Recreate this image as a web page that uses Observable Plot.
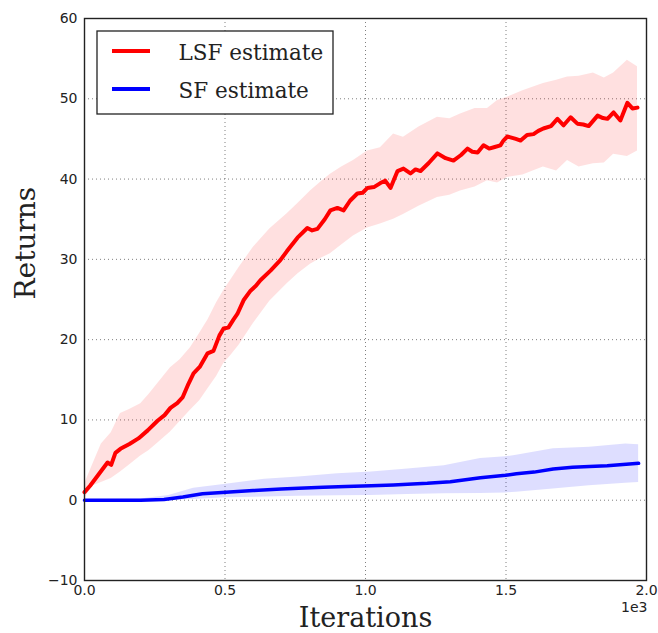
<!DOCTYPE html>
<html>
<head>
<meta charset="utf-8">
<script src="https://cdn.jsdelivr.net/npm/d3@7"></script>
<script src="https://cdn.jsdelivr.net/npm/@observablehq/plot@0.6"></script>
<style>
  html, body { margin: 0; padding: 0; background: #fff; }
</style>
</head>
<body>
<div id="chart"></div>
<script>
// ---- data ----
const xTicks = [0, 500, 1000, 1500, 2000];
const yTicks = [-10, 0, 10, 20, 30, 40, 50, 60];

const lsfX = [0,20,50,82,95,110,128,160,192,225,260,285,306,330,349,370,388,410,438,459,480,495,512,530,544,566,591,610,626,662,697,720,758,793,810,829,855,875,900,922,945,971,990,1007,1030,1053,1070,1089,1114,1135,1160,1178,1196,1225,1256,1285,1313,1340,1363,1380,1399,1420,1440,1460,1480,1491,1505,1516,1535,1552,1575,1598,1615,1633,1660,1683,1705,1730,1754,1775,1794,1826,1845,1861,1883,1907,1932,1950,1968];
const lsfY = [1.0,1.8,3.2,4.7,4.4,5.9,6.4,7.0,7.7,8.7,9.9,10.6,11.5,12.1,12.8,14.5,15.8,16.6,18.3,18.6,20.5,21.4,21.5,22.5,23.2,24.9,26.1,26.7,27.4,28.6,29.9,31.0,32.7,33.9,33.6,33.8,35.0,36.1,36.4,36.1,37.3,38.2,38.3,38.9,39.0,39.5,39.8,38.9,41.0,41.3,40.7,41.2,41.0,42.0,43.2,42.6,42.3,43.0,43.8,43.4,43.3,44.2,43.8,44.0,44.2,44.8,45.3,45.2,45.0,44.8,45.5,45.6,46.0,46.3,46.6,47.5,46.7,47.7,46.9,46.8,46.6,47.9,47.6,47.5,48.3,47.3,49.5,48.8,48.9];

const lsfBandX = [0,30,60,95,128,160,200,230,260,306,340,377,410,440,470,495,520,550,601,660,722,760,804,840,875,915,957,1007,1053,1100,1135,1190,1256,1300,1338,1390,1434,1470,1505,1560,1633,1680,1719,1760,1811,1850,1883,1932,1968];
const lsfUpper = [2.0,4.5,7.0,8.4,10.8,11.3,12.0,13.2,14.5,16.5,17.5,19.0,20.8,22.5,24.6,26.1,27.4,29.0,31.5,33.8,35.7,37.0,38.5,39.6,40.6,41.5,42.3,43.5,43.9,45.6,45.2,46.5,47.7,47.5,48.1,48.8,48.8,49.8,50.2,51.0,51.9,52.3,52.7,52.8,53.2,52.6,53.2,54.8,54.0];
const lsfLower = [0.2,1.8,2.2,2.7,3.5,4.4,5.5,6.2,7.1,8.5,9.8,11.2,12.4,13.9,15.4,17.0,18.0,19.3,22.0,24.8,27.0,28.2,29.4,30.1,30.7,31.8,32.9,33.9,34.4,35.0,35.6,36.6,37.7,38.0,38.5,39.0,39.8,39.5,40.2,40.5,41.5,41.0,42.3,41.5,41.9,42.0,43.1,42.8,43.5];

const sfX = [0,100,200,283,350,420,503,600,700,762,850,930,1021,1100,1150,1220,1302,1409,1498,1537,1600,1668,1737,1797,1860,1939,1972];
const sfY = [0.0,0.0,0.0,0.1,0.4,0.8,1.0,1.2,1.4,1.5,1.6,1.7,1.8,1.9,2.0,2.1,2.3,2.8,3.1,3.3,3.5,3.9,4.1,4.2,4.3,4.5,4.6];

const sfBandX = [0,200,300,388,503,640,762,900,1021,1150,1280,1409,1498,1537,1668,1797,1926,1972];
const sfUpper = [0.05,0.15,0.6,1.5,2.0,2.6,2.9,3.3,3.5,3.9,4.3,5.2,5.4,5.6,6.4,6.6,7.0,6.9];
const sfLower = [-0.05,-0.05,0.0,0.1,0.3,0.4,0.5,0.55,0.6,0.7,0.8,0.85,0.9,1.0,1.4,1.8,2.1,2.2];

const seriesNames = ["LSF estimate", "SF estimate"];
const seriesColors = ["#ff0000", "#0000ff"];

// ---- tables ----
const lsf = lsfX.map((x, i) => ({x, y: lsfY[i]}));
const sf = sfX.map((x, i) => ({x, y: sfY[i]}));
const lsfBand = lsfBandX.map((x, i) => ({x, lo: lsfLower[i], hi: lsfUpper[i]}));
const sfBand = sfBandX.map((x, i) => ({x, lo: sfLower[i], hi: sfUpper[i]}));

const W = 658, H = 633;
const mL = 84, mR = 12, mT = 18, mB = 53;
const serif = "DejaVu Serif";

const plot = Plot.plot({
  width: W,
  height: H,
  marginLeft: mL,
  marginRight: mR,
  marginTop: mT,
  marginBottom: mB,
  style: {fontFamily: "DejaVu Sans", fontSize: "14px", color: "#222", background: "#fff"},
  x: {domain: [0, 2000], ticks: xTicks, label: null},
  y: {domain: [-10, 60], ticks: yTicks, label: null},
  marks: [
    Plot.gridX(xTicks, {stroke: "#000", strokeOpacity: 0.5, strokeDasharray: "1,3", strokeWidth: 1}),
    Plot.gridY(yTicks, {stroke: "#000", strokeOpacity: 0.5, strokeDasharray: "1,3", strokeWidth: 1}),
    Plot.areaY(lsfBand, {x: "x", y1: "lo", y2: "hi", fill: seriesColors[0], fillOpacity: 0.12}),
    Plot.areaY(sfBand, {x: "x", y1: "lo", y2: "hi", fill: seriesColors[1], fillOpacity: 0.13}),
    Plot.line(sf, {x: "x", y: "y", stroke: seriesColors[1], strokeWidth: 3.5}),
    Plot.line(lsf, {x: "x", y: "y", stroke: seriesColors[0], strokeWidth: 4}),
    Plot.axisX(xTicks, {tickSize: 0, tickPadding: 5, tickFormat: d => (d / 1000).toFixed(1), fill: "#222", label: null}),
    Plot.axisY(yTicks, {tickSize: 0, tickPadding: 7, tickFormat: d => d < 0 ? "\u2212" + Math.abs(d) : String(d), fill: "#222", label: null}),
    Plot.frame({stroke: "#222", strokeWidth: 1.4}),
    Plot.text(["1e3"], {frameAnchor: "bottom-right", textAnchor: "end", dx: 1, dy: 31, fill: "#222", fontSize: 14}),
    Plot.text(["Iterations"], {frameAnchor: "bottom", dy: 46, fontFamily: serif, fontSize: 27, fill: "#222"}),
    Plot.text(["Returns"], {frameAnchor: "left", dx: -58, rotate: -90, fontFamily: serif, fontSize: 28, fill: "#222"}),
    // legend labels
    Plot.text([seriesNames[0]], {frameAnchor: "top-left", textAnchor: "start", lineAnchor: "middle", dx: 94, dy: 35, fontFamily: serif, fontSize: 21.5, fill: "#222"}),
    Plot.text([seriesNames[1]], {frameAnchor: "top-left", textAnchor: "start", lineAnchor: "middle", dx: 94, dy: 73, fontFamily: serif, fontSize: 21.5, fill: "#222"})
  ]
});

// ---- legend box and swatches (placed under the text marks) ----
const svg = d3.select(plot);
const lg = svg.insert("g", "g[aria-label='text']").attr("class", "legend");
lg.append("rect")
  .attr("x", 97).attr("y", 31).attr("width", 236).attr("height", 83)
  .attr("fill", "#fff").attr("stroke", "#222").attr("stroke-width", 1.3);
seriesNames.forEach((name, i) => {
  const cy = 51 + i * 38;
  lg.append("line")
    .attr("x1", 112).attr("x2", 150).attr("y1", cy).attr("y2", cy)
    .attr("stroke", seriesColors[i]).attr("stroke-width", 4);
});

document.getElementById("chart").appendChild(plot);
</script>
</body>
</html>
